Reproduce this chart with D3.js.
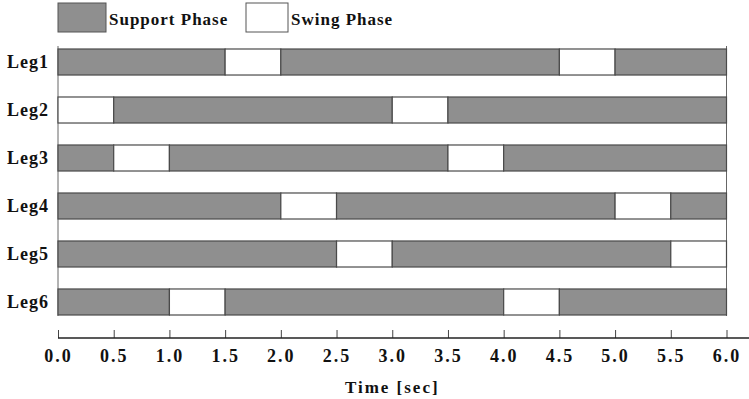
<!DOCTYPE html>
<html>
<head>
<meta charset="utf-8">
<script src="https://cdn.jsdelivr.net/npm/d3@7"></script>
<style>
  body { margin: 0; background: #fff; }
  text { font-family: "Liberation Serif", "DejaVu Serif", serif; font-weight: bold; fill: #111; }
</style>
</head>
<body>
<div id="chart"></div>
<script>
// gait phases, each segment is [phase, start, end] in seconds
const legs = ['Leg1', 'Leg2', 'Leg3', 'Leg4', 'Leg5', 'Leg6'];
const leg1 = [['support', 0, 1.5], ['swing', 1.5, 2.0], ['support', 2.0, 4.5], ['swing', 4.5, 5.0], ['support', 5.0, 6.0]];
const leg2 = [['swing', 0, 0.5], ['support', 0.5, 3.0], ['swing', 3.0, 3.5], ['support', 3.5, 6.0]];
const leg3 = [['support', 0, 0.5], ['swing', 0.5, 1.0], ['support', 1.0, 3.5], ['swing', 3.5, 4.0], ['support', 4.0, 6.0]];
const leg4 = [['support', 0, 2.0], ['swing', 2.0, 2.5], ['support', 2.5, 5.0], ['swing', 5.0, 5.5], ['support', 5.5, 6.0]];
const leg5 = [['support', 0, 2.5], ['swing', 2.5, 3.0], ['support', 3.0, 5.5], ['swing', 5.5, 6.0]];
const leg6 = [['support', 0, 1.0], ['swing', 1.0, 1.5], ['support', 1.5, 4.0], ['swing', 4.0, 4.5], ['support', 4.5, 6.0]];
const phaseNames = ['Support Phase', 'Swing Phase'];
const timeTicks = [0, 0.5, 1, 1.5, 2, 2.5, 3, 3.5, 4, 4.5, 5, 5.5, 6];

const width = 749, height = 399;
const margin = { top: 49, right: 22, bottom: 84, left: 58 };
const colors = { support: '#8f8f8f', swing: '#ffffff' };

const segments = [leg1, leg2, leg3, leg4, leg5, leg6]
  .flatMap((segs, i) => segs.map(([phase, start, end]) => ({ leg: legs[i], phase, start, end })));

const svg = d3.select('#chart').append('svg')
  .attr('width', width)
  .attr('height', height);

const x = d3.scaleLinear()
  .domain([0, 6])
  .range([margin.left, width - margin.right - 0.5]);

const y = d3.scaleBand()
  .domain(legs)
  .range([margin.top, height - margin.bottom])
  .paddingInner(0.458)
  .paddingOuter(0);

// frame lines on left and right
svg.append('g')
  .selectAll('line')
  .data([0, 6])
  .join('line')
  .attr('x1', d => x(d)).attr('x2', d => x(d))
  .attr('y1', margin.top - 3).attr('y2', height - margin.bottom + 1)
  .attr('stroke', '#666')
  .attr('stroke-width', 1);

// bars
svg.append('g')
  .selectAll('rect')
  .data(segments)
  .join('rect')
  .attr('x', d => x(d.start))
  .attr('y', d => y(d.leg))
  .attr('width', d => x(d.end) - x(d.start))
  .attr('height', y.bandwidth())
  .attr('fill', d => colors[d.phase])
  .attr('stroke', '#4a4a4a')
  .attr('stroke-width', 1.2);

// leg labels
svg.append('g')
  .selectAll('text')
  .data(legs)
  .join('text')
  .attr('x', margin.left - 9)
  .attr('y', d => y(d) + y.bandwidth() / 2 + 6)
  .attr('text-anchor', 'end')
  .style('font-size', '18px')
  .style('letter-spacing', '1px')
  .text(d => d);

// x axis, ticks pointing up
const axisY = 338;
const xAxis = svg.append('g')
  .attr('transform', `translate(0, ${axisY})`)
  .call(d3.axisBottom(x)
    .tickValues(timeTicks)
    .tickFormat(d3.format('.1f'))
    .tickSizeInner(-8)
    .tickSizeOuter(0)
    .tickPadding(11));
xAxis.select('.domain').remove();
xAxis.append('line')
  .attr('x1', x(0)).attr('x2', width)
  .attr('stroke', '#222').attr('stroke-width', 1.5);
xAxis.selectAll('.tick line').attr('stroke', '#444');
xAxis.selectAll('.tick text')
  .style('font-size', '18px')
  .style('letter-spacing', '2px')
  .attr('font-family', null)
  .attr('fill', '#111');

svg.append('text')
  .attr('x', (x(0) + x(6)) / 2)
  .attr('y', 393)
  .attr('text-anchor', 'middle')
  .style('font-size', '17px')
  .style('letter-spacing', '2px')
  .text('Time [sec]');

// legend
const legendX = [58, 246];
const legend = svg.append('g')
  .selectAll('g')
  .data(phaseNames)
  .join('g')
  .attr('transform', (d, i) => `translate(${legendX[i]}, 3)`);
legend.append('rect')
  .attr('width', (d, i) => i === 0 ? 48 : 42)
  .attr('height', 29)
  .attr('fill', (d, i) => i === 0 ? colors.support : colors.swing)
  .attr('stroke', '#555');
legend.append('text')
  .attr('x', (d, i) => i === 0 ? 51 : 45)
  .attr('y', 22)
  .style('font-size', '17px')
  .style('letter-spacing', '1px')
  .text(d => d);
</script>
</body>
</html>
